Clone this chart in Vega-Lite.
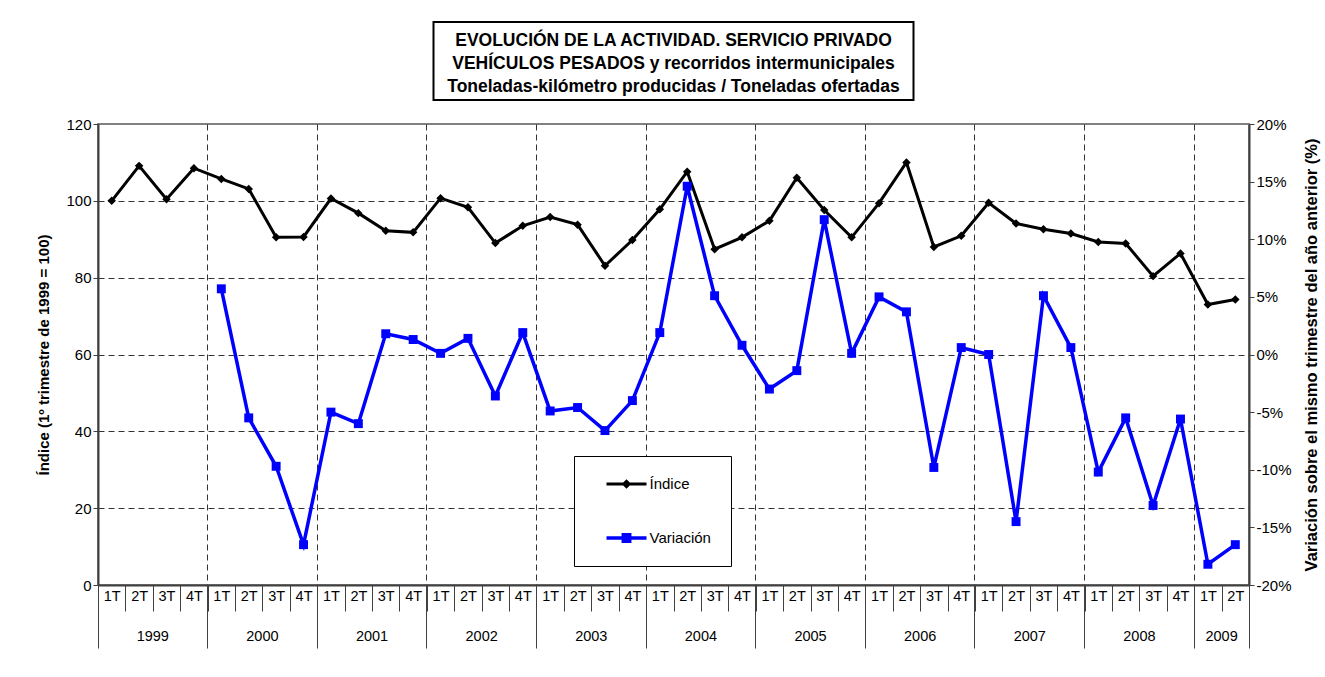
{
  "$schema": "https://vega.github.io/schema/vega-lite/v6.json",
  "background": "white",
  "padding": {"left": 35, "top": 21, "right": 5, "bottom": 5},
  "spacing": 24,
  "bounds": "flush",
  "center": true,
  "config": {
    "font": "Liberation Sans",
    "axis": {"labelFont": "Liberation Sans", "titleFont": "Liberation Sans", "labelColor": "black", "titleColor": "black", "labelFontSize": 15, "domainColor": "#404040", "tickColor": "#404040"}
  },
  "vconcat": [
    {
      "width": 480,
      "height": 78,
      "view": {"stroke": "black", "strokeWidth": 2},
      "data": {"values": [
        {"linea": 1, "texto": "EVOLUCIÓN DE LA ACTIVIDAD. SERVICIO PRIVADO"},
        {"linea": 2, "texto": "VEHÍCULOS PESADOS y recorridos intermunicipales"},
        {"linea": 3, "texto": "Toneladas-kilómetro producidas / Toneladas ofertadas"}
      ]},
      "mark": {"type": "text", "fontWeight": "bold", "fontSize": 17.5, "font": "Liberation Sans", "color": "black", "dy": 3},
      "encoding": {
        "y": {"field": "linea", "type": "ordinal", "axis": null, "scale": {"type": "point", "padding": 0.72}},
        "text": {"field": "texto"}
      }
    },
    {
      "width": 1151,
      "height": 461,
      "view": {"stroke": "#808080", "strokeWidth": 2},
      "data": {"values": [
        {"t": "1999-1T", "indice": 100.0, "var": null},
        {"t": "1999-2T", "indice": 109.1, "var": null},
        {"t": "1999-3T", "indice": 100.4, "var": null},
        {"t": "1999-4T", "indice": 108.5, "var": null},
        {"t": "2000-1T", "indice": 105.7, "var": 5.7},
        {"t": "2000-2T", "indice": 103.1, "var": -5.5},
        {"t": "2000-3T", "indice": 90.5, "var": -9.7},
        {"t": "2000-4T", "indice": 90.6, "var": -16.5},
        {"t": "2001-1T", "indice": 100.6, "var": -5.0},
        {"t": "2001-2T", "indice": 96.8, "var": -6.0},
        {"t": "2001-3T", "indice": 92.2, "var": 1.8},
        {"t": "2001-4T", "indice": 91.8, "var": 1.3},
        {"t": "2002-1T", "indice": 100.7, "var": 0.1},
        {"t": "2002-2T", "indice": 98.3, "var": 1.4},
        {"t": "2002-3T", "indice": 89.0, "var": -3.6},
        {"t": "2002-4T", "indice": 93.5, "var": 1.9},
        {"t": "2003-1T", "indice": 95.8, "var": -4.9},
        {"t": "2003-2T", "indice": 93.8, "var": -4.6},
        {"t": "2003-3T", "indice": 83.1, "var": -6.6},
        {"t": "2003-4T", "indice": 89.8, "var": -4.0},
        {"t": "2004-1T", "indice": 97.8, "var": 1.9},
        {"t": "2004-2T", "indice": 107.6, "var": 14.6},
        {"t": "2004-3T", "indice": 87.4, "var": 5.1},
        {"t": "2004-4T", "indice": 90.5, "var": 0.8},
        {"t": "2005-1T", "indice": 94.8, "var": -3.0},
        {"t": "2005-2T", "indice": 106.0, "var": -1.4},
        {"t": "2005-3T", "indice": 97.6, "var": 11.7},
        {"t": "2005-4T", "indice": 90.5, "var": 0.1},
        {"t": "2006-1T", "indice": 99.4, "var": 5.0},
        {"t": "2006-2T", "indice": 110.0, "var": 3.7},
        {"t": "2006-3T", "indice": 88.0, "var": -9.8},
        {"t": "2006-4T", "indice": 90.9, "var": 0.6},
        {"t": "2007-1T", "indice": 99.5, "var": 0.0},
        {"t": "2007-2T", "indice": 94.1, "var": -14.5},
        {"t": "2007-3T", "indice": 92.6, "var": 5.1},
        {"t": "2007-4T", "indice": 91.5, "var": 0.6},
        {"t": "2008-1T", "indice": 89.3, "var": -10.2},
        {"t": "2008-2T", "indice": 88.9, "var": -5.5},
        {"t": "2008-3T", "indice": 80.4, "var": -13.1},
        {"t": "2008-4T", "indice": 86.3, "var": -5.6},
        {"t": "2009-1T", "indice": 73.0, "var": -18.2},
        {"t": "2009-2T", "indice": 74.3, "var": -16.5}
      ]},
      "layer": [
        {
          "mark": {"type": "line", "color": "black", "strokeWidth": 3, "point": {"shape": "diamond", "filled": true, "size": 72, "color": "black", "opacity": 1}},
          "encoding": {
            "x": {"field": "t", "type": "ordinal", "scale": {"type": "band", "paddingInner": 0, "paddingOuter": 0},
              "axis": {"orient": "bottom", "title": null, "tickBand": "extent", "tickSize": 26, "tickWidth": 1, "labelExpr": "split(datum.value, '-')[1]", "labelAngle": 0, "labelPadding": -22, "labelFontSize": 14.5, "domainWidth": 2, "grid": false}},
            "y": {"field": "indice", "type": "quantitative", "scale": {"domain": [0, 120], "nice": false, "zero": false},
              "axis": {"orient": "left", "values": [0, 20, 40, 60, 80, 100, 120], "title": "Índice (1º trimestre de 1999 = 100)", "titleFontSize": 15, "titleFontWeight": "bold", "titlePadding": 14, "tickSize": 5, "domainWidth": 2, "grid": true, "gridDash": [6, 4], "gridColor": "#333333", "gridWidth": 1, "gridOpacity": {"condition": {"test": "datum.value == 120 || datum.value == 0", "value": 0}, "value": 1}}}
          }
        },
        {
          "mark": {"type": "line", "color": "#0000FF", "strokeWidth": 3.5, "point": {"shape": "square", "filled": true, "size": 80, "color": "#0000FF", "opacity": 1}},
          "encoding": {
            "x": {"field": "t", "type": "ordinal",
              "axis": {"orient": "bottom", "title": null, "values": ["1999-1T", "1999-4T", "2000-4T", "2001-4T", "2002-4T", "2003-4T", "2004-4T", "2005-4T", "2006-4T", "2007-4T", "2008-4T", "2009-2T"], "bandPosition": 1, "tickExtra": true, "tickSize": 63, "tickWidth": 1, "labels": false, "domain": false, "grid": true, "gridDash": [6, 4], "gridColor": "#333333", "gridWidth": 1,
                "tickOpacity": {"condition": {"test": "datum.value == '1999-1T'", "value": 0}, "value": 1},
                "gridOpacity": {"condition": {"test": "datum.value == '1999-1T'", "value": 0}, "value": 1}}},
            "y": {"field": "var", "type": "quantitative", "scale": {"domain": [-20, 20], "nice": false, "zero": false},
              "axis": {"orient": "right", "values": [-20, -15, -10, -5, 0, 5, 10, 15, 20], "labelExpr": "datum.value + '%'", "title": "Variación sobre el mismo trimestre del año anterior (%)", "titleFontSize": 16.5, "titleFontWeight": "bold", "titleAngle": 270, "titleBaseline": "top", "titlePadding": 12, "tickSize": 5, "domainWidth": 2, "grid": false}}
          }
        },
        {
          "data": {"values": [{"serie": "Índice"}, {"serie": "Variación"}]},
          "transform": [{"filter": "false"}],
          "mark": {"type": "point", "filled": true, "opacity": 1},
          "encoding": {
            "x": {"field": "t", "type": "ordinal",
              "axis": {"orient": "bottom", "title": null, "values": ["1999-2T", "2000-2T", "2001-2T", "2002-2T", "2003-2T", "2004-2T", "2005-2T", "2006-2T", "2007-2T", "2008-2T", "2009-1T"], "ticks": false, "domain": false, "grid": false, "labelExpr": "split(datum.value, '-')[0]", "labelOffset": 13.7, "labelPadding": 44, "labelFontSize": 14.5, "labelAngle": 0}},
            "color": {"field": "serie", "type": "nominal", "scale": {"domain": ["Índice", "Variación"], "range": ["black", "#0000FF"]},
              "legend": {"title": null, "orient": "none", "legendX": 476, "legendY": 434, "padding": 20, "symbolOffset": 24.5, "labelOffset": 15, "rowPadding": 38, "symbolSize": 256, "symbolStrokeWidth": 0, "symbolOpacity": 1, "labelFontSize": 15, "labelFont": "Liberation Sans", "labelColor": "black", "strokeColor": "black", "fillColor": "white", "direction": "vertical"}},
            "shape": {"field": "serie", "type": "nominal", "scale": {"domain": ["Índice", "Variación"], "range": ["M-2.5,-0.19L2.5,-0.19L2.5,0.19L-2.5,0.19Z M0,-0.6L0.6,0L0,0.6L-0.6,0Z", "M-2.5,-0.22L2.5,-0.22L2.5,0.22L-2.5,0.22Z M-0.62,-0.62L0.62,-0.62L0.62,0.62L-0.62,0.62Z"]}}
          }
        }
      ],
      "resolve": {"scale": {"y": "independent"}, "axis": {"x": "independent", "y": "independent"}}
    }
  ]
}
